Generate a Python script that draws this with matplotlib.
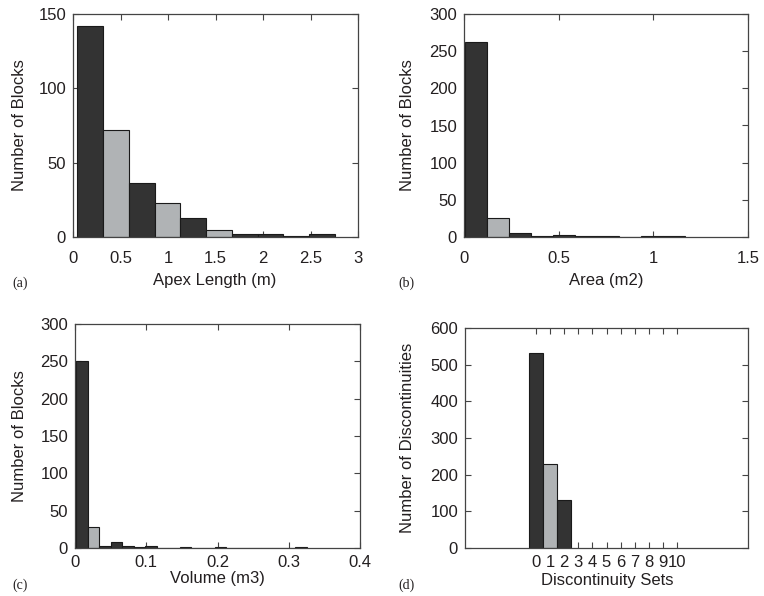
import numpy as np
import matplotlib
matplotlib.use("Agg")
import matplotlib.pyplot as plt
from matplotlib.ticker import FuncFormatter

plt.rcParams['font.family'] = ['Liberation Sans', 'DejaVu Sans']

DARK = '#333333'
LIGHT = '#b0b3b5'
TEXT = '#231f20'

# (a) apex length histogram
apex_counts = [142, 72, 36, 23, 13, 5, 2, 2, 1, 2]
apex_shade = ['d', 'l', 'd', 'l', 'd', 'l', 'd', 'd', 'd', 'd']
apex_bin_start, apex_bin_width = 0.046, 0.271

# (b) area histogram
area_counts = [262, 26, 6, 1, 3, 1, 1, 0, 1, 1]
area_shade = ['d', 'l', 'd', 'd', 'd', 'd', 'd', 'd', 'd', 'd']
area_bin_start, area_bin_width = 0.005, 0.116

# (c) volume histogram
vol_counts = [251, 28, 3, 8, 3, 1, 3, 0, 0, 1, 0, 0, 1, 0, 0, 0, 0, 0, 0, 1]
vol_shade = ['d', 'l'] + ['d'] * 18
vol_bin_start, vol_bin_width = 0.0014, 0.0162

# (d) discontinuity sets
sets = [0, 1, 2]
set_counts = [533, 229, 131]
set_shade = ['d', 'l', 'd']

W, H = 764, 596
fig = plt.figure(figsize=(W / 100, H / 100), dpi=100)


def px_axes(l, t, r, b):
    return fig.add_axes([l / W, 1 - b / H, (r - l) / W, (b - t) / H])


def px_text(x, y, s, **kw):
    fig.text(x / W, 1 - y / H, s, color=TEXT, **kw)


def style(ax, xpad):
    for sp in ax.spines.values():
        sp.set_color('#444444')
        sp.set_linewidth(0.9)
    ax.tick_params(direction='in', top=True, right=True, length=4, width=0.8,
                   color='#444444', labelsize=12, labelcolor=TEXT, pad=5)
    ax.tick_params(axis='x', pad=xpad)


def shade(keys):
    return [DARK if k == 'd' else LIGHT for k in keys]


def hist_panel(ax, counts, keys, start, width):
    edges = start + width * np.arange(len(counts))
    ax.bar(edges, counts, width=width, align='edge', color=shade(keys),
           edgecolor='#1a1a1a', linewidth=0.8, zorder=2)


fmt = FuncFormatter(lambda v, p: '%g' % round(v, 6))

# panel a
ax = px_axes(73, 14, 358, 237)
hist_panel(ax, apex_counts, apex_shade, apex_bin_start, apex_bin_width)
ax.set_xlim(0, 3)
ax.set_ylim(0, 150)
ax.set_xticks(np.arange(0, 3.01, 0.5))
ax.set_yticks([0, 50, 100, 150])
ax.xaxis.set_major_formatter(fmt)
style(ax, 10)
px_text(215, 280, 'Apex Length (m)', fontsize=12, ha='center', va='center')
px_text(20, 125, 'Number of Blocks', fontsize=12, ha='center', va='center', rotation=90)
px_text(12, 283, '(a)', fontsize=10, ha='left', va='center', family='Liberation Serif')

# panel b
ax = px_axes(464, 14, 748, 237)
hist_panel(ax, area_counts, area_shade, area_bin_start, area_bin_width)
ax.set_xlim(0, 1.5)
ax.set_ylim(0, 300)
ax.set_xticks([0, 0.5, 1, 1.5])
ax.set_yticks(np.arange(0, 301, 50))
ax.xaxis.set_major_formatter(fmt)
style(ax, 10)
px_text(606, 280, 'Area (m2)', fontsize=12, ha='center', va='center')
px_text(408, 125, 'Number of Blocks', fontsize=12, ha='center', va='center', rotation=90)
px_text(398, 283, '(b)', fontsize=10, ha='left', va='center', family='Liberation Serif')

# panel c
ax = px_axes(75, 324, 360, 548)
hist_panel(ax, vol_counts, vol_shade, vol_bin_start, vol_bin_width)
ax.set_xlim(0, 0.4)
ax.set_ylim(0, 300)
ax.set_xticks([0, 0.1, 0.2, 0.3, 0.4])
ax.set_yticks(np.arange(0, 301, 50))
ax.xaxis.set_major_formatter(fmt)
style(ax, 5)
px_text(217, 578, 'Volume (m3)', fontsize=12, ha='center', va='center')
px_text(20, 436, 'Number of Blocks', fontsize=12, ha='center', va='center', rotation=90)
px_text(12, 585, '(c)', fontsize=10, ha='left', va='center', family='Liberation Serif')

# panel d
ax = px_axes(465, 328, 748, 548)
ax.bar(sets, set_counts, width=1.0, color=shade(set_shade),
       edgecolor='#1a1a1a', linewidth=0.8, zorder=2)
ax.set_xlim(-5, 15)
ax.set_ylim(0, 600)
ax.set_xticks(range(0, 11))
ax.set_yticks(np.arange(0, 601, 100))
style(ax, 5)
px_text(607, 580, 'Discontinuity Sets', fontsize=12, ha='center', va='center')
px_text(408, 438, 'Number of Discontinuities', fontsize=12, ha='center', va='center', rotation=90)
px_text(398, 585, '(d)', fontsize=10, ha='left', va='center', family='Liberation Serif')

fig.savefig('out.png', dpi=100)
